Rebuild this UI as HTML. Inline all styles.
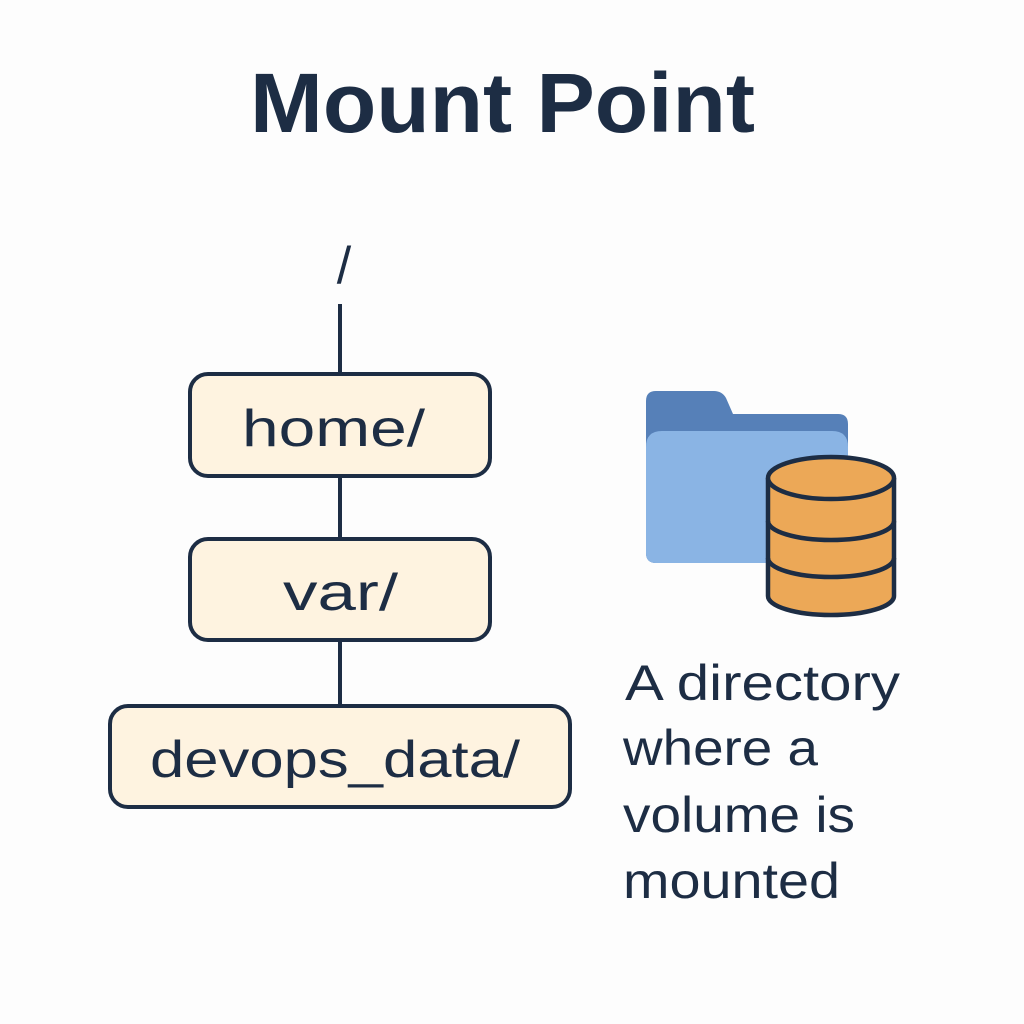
<!DOCTYPE html>
<html><head><style>
html,body{margin:0;padding:0;background:#fdfdfd;}
svg{display:block}
text{font-family:"Liberation Sans",sans-serif;fill:#1d2d44}
</style></head><body>
<svg width="1024" height="1024" viewBox="0 0 1024 1024">
<rect width="1024" height="1024" fill="#fdfdfd"/>
<text x="250" y="132" font-size="84" font-weight="bold" textLength="505" lengthAdjust="spacingAndGlyphs">Mount Point</text>
<text x="344" y="283" font-size="52" text-anchor="middle">/</text>
<g stroke="#1d2d44" stroke-width="4" fill="none">
<line x1="340" y1="304" x2="340" y2="374"/>
<line x1="340" y1="476" x2="340" y2="539"/>
<line x1="340" y1="640" x2="340" y2="706"/>
</g>
<g stroke="#1d2d44" stroke-width="4" fill="#fef3e0">
<rect x="190" y="374" width="300" height="102" rx="18"/>
<rect x="190" y="539" width="300" height="101" rx="18"/>
<rect x="110" y="706" width="460" height="101" rx="18"/>
</g>
<text x="242" y="446" font-size="52" textLength="183" lengthAdjust="spacingAndGlyphs">home/</text>
<text x="283" y="610" font-size="52" textLength="115" lengthAdjust="spacingAndGlyphs">var/</text>
<text x="150" y="777" font-size="52" textLength="370" lengthAdjust="spacingAndGlyphs">devops_data/</text>
<!-- folder -->
<path d="M656 391 H714 Q722 391 726 398 L733 414 H838 Q848 414 848 424 V553 Q848 563 838 563 H656 Q646 563 646 553 V401 Q646 391 656 391 Z" fill="#5680b8"/>
<path d="M662 431 H832 Q848 431 848 447 V553 Q848 563 838 563 H656 Q646 563 646 553 V447 Q646 431 662 431 Z" fill="#8ab4e4"/>
<!-- cylinder -->
<g stroke="#1d2d44" stroke-width="4.5" fill="#eca857">
<path d="M768 478 V596 A63 19 0 0 0 894 596 V478"/>
<path d="M768 521 A63 19 0 0 0 894 521" fill="none"/>
<path d="M768 558 A63 19 0 0 0 894 558" fill="none"/>
<ellipse cx="831" cy="478" rx="63" ry="21"/>
</g>
<g font-size="50">
<text x="625" y="700" textLength="275" lengthAdjust="spacingAndGlyphs">A directory</text>
<text x="623" y="765" textLength="195" lengthAdjust="spacingAndGlyphs">where a</text>
<text x="623" y="832" textLength="232" lengthAdjust="spacingAndGlyphs">volume is</text>
<text x="623" y="898" textLength="217" lengthAdjust="spacingAndGlyphs">mounted</text>
</g>
</svg>
</body></html>
